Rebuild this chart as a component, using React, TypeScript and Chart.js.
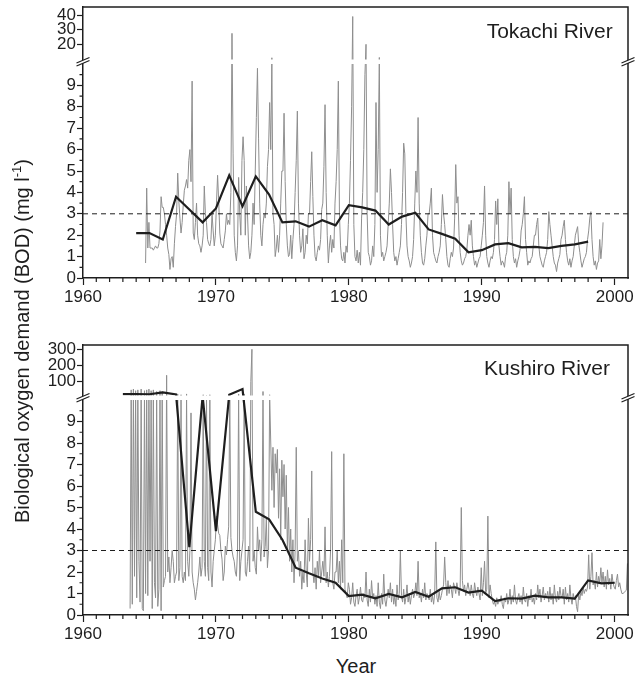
import React, { useEffect, useRef } from 'react';
import { Chart, registerables, LinearScale } from 'chart.js';

Chart.register(...registerables);

// ---------------- DATA ----------------
const xMin = 1960;
const xMax = 2001;
const yearTicks = [1960, 1970, 1980, 1990, 2000];
const bodStandard = 3;

const tokachiYTicks = [0, 1, 2, 3, 4, 5, 6, 7, 8, 9, 20, 30, 40];
const kushiroYTicks = [0, 1, 2, 3, 4, 5, 6, 7, 8, 9, 100, 200, 300];

// Tokachi River monthly BOD (Jan..Dec), first row = 1964
const tokachiMonthlyStart = 1964;
const tokachiMonthly: (number | null)[][] = [
  [null, null, null, null, null, null, null, null, 0.7, 4.2, 1.4, 2.6],
  [1.4, 1.4, 1.4, 1.3, 1.4, 1.5, 1.4, 1.4, 1.6, 2.2, 3.8, 3.3],
  [3.3, 3.0, 2.5, 2.0, 1.4, 1.1, 0.4, 0.9, 1.0, 0.5, 1.6, 2.4],
  [3.0, 4.9, 3.6, 2.8, 2.1, 2.6, 3.4, 4.1, 4.3, 4.6, 4.2, 5.5],
  [6.0, 4.5, 9.2, 2.1, 1.8, 2.6, 3.5, 2.0, 1.6, 1.5, 1.2, 1.5],
  [2.0, 4.3, 3.0, 2.6, 1.8, 1.6, 1.5, 1.8, 3.0, 2.2, 1.5, 2.0],
  [3.5, 4.8, 3.6, 2.1, 1.6, 1.5, 1.4, 1.8, 2.2, 3.0, 2.5, 2.7],
  [2.5, 4.0, 27.5, 5.8, 2.0, 1.2, 0.8, 1.5, 4.7, 3.0, 2.0, 5.5],
  [6.6, 5.5, 2.0, 4.3, 3.0, 1.5, 0.9, 1.2, 2.0, 3.5, 2.5, 5.0],
  [7.5, 9.8, 6.5, 3.5, 2.0, 1.5, 2.5, 3.0, 2.8, 3.5, 5.2, 6.0],
  [8.2, 6.0, 10.8, 3.0, 2.5, 1.0, 1.4, 2.0, 1.2, 2.0, 3.5, 5.0],
  [5.0, 7.7, 4.5, 2.5, 1.5, 1.0, 1.1, 2.0, 0.9, 1.8, 2.5, 4.0],
  [5.5, 7.8, 3.5, 2.0, 1.2, 1.5, 2.3, 0.9, 1.2, 2.0, 1.6, 3.0],
  [3.0, 4.5, 5.9, 3.8, 2.0, 1.0, 0.8, 1.2, 1.5, 1.3, 1.8, 3.2],
  [3.5, 5.2, 8.1, 4.0, 2.0, 0.7, 1.5, 2.0, 1.2, 1.8, 1.4, 3.5],
  [4.5, 6.0, 9.2, 3.0, 1.5, 0.9, 0.8, 1.2, 0.7, 1.5, 1.2, 2.5],
  [3.5, 5.5, 8.0, 39.0, 2.5, 1.0, 0.8, 1.3, 0.7, 1.2, 0.6, 2.8],
  [4.0, 6.0, 9.5, 20.0, 3.0, 1.2, 1.0, 0.6, 0.8, 1.5, 1.0, 2.5],
  [8.2, 4.0, 6.0, 11.0, 2.0, 1.0, 1.2, 0.8, 1.0, 1.2, 1.5, 2.5],
  [3.5, 5.1, 4.0, 2.5, 1.2, 0.8, 1.0, 0.6, 0.9, 1.2, 1.5, 2.5],
  [4.0, 6.3, 5.8, 3.0, 1.5, 1.0, 0.8, 0.5, 0.7, 1.0, 1.8, 3.5],
  [5.0, 4.0, 7.5, 3.5, 2.0, 1.2, 0.7, 0.6, 0.9, 1.5, 2.0, 3.0],
  [3.0, 3.5, 4.2, 2.0, 1.2, 1.0, 0.8, 0.7, 1.0, 1.2, 1.5, 2.5],
  [3.9, 3.0, 2.5, 1.8, 1.0, 0.6, 0.5, 0.9, 1.2, 1.0, 1.4, 2.8],
  [5.3, 3.5, 3.8, 2.0, 1.2, 0.8, 0.6, 0.7, 0.9, 1.0, 1.3, 2.0],
  [2.5, 2.0, 2.7, 1.5, 1.0, 0.6, 0.8, 0.5, 0.7, 0.9, 1.0, 1.5],
  [2.0, 2.6, 4.3, 2.0, 1.0, 0.7, 0.5, 0.8, 1.0, 0.9, 1.2, 1.8],
  [3.6, 2.5, 3.7, 1.5, 1.0, 0.6, 0.8, 0.7, 0.5, 1.0, 1.2, 2.0],
  [4.5, 3.0, 4.2, 1.8, 1.0, 0.7, 0.9, 0.5, 0.8, 1.0, 1.3, 2.2],
  [2.5, 3.0, 3.8, 1.8, 1.2, 0.6, 0.8, 0.7, 0.9, 1.0, 1.5, 2.0],
  [2.0, 2.5, 2.8, 1.5, 1.0, 0.8, 0.6, 0.5, 0.8, 1.0, 1.2, 1.8],
  [3.1, 2.5, 2.0, 1.5, 1.0, 0.7, 0.6, 0.3, 0.7, 0.9, 1.1, 1.8],
  [2.0, 2.4, 2.7, 1.8, 1.2, 0.8, 0.6, 0.9, 0.5, 0.8, 1.0, 1.5],
  [2.0, 2.2, 2.4, 1.6, 1.2, 0.8, 0.5, 0.7, 0.9, 1.0, 1.2, 1.8],
  [2.2, 2.8, 3.1, 1.8, 1.0, 0.6, 0.8, 0.4, 0.7, 0.8, 1.8, 0.9],
  [1.5, 2.6],
];

// Tokachi River annual mean BOD, first value = 1964
const tokachiAnnualStart = 1964;
const tokachiAnnual = [
  2.1, 2.1, 1.8, 3.8, 3.2, 2.6, 3.25, 4.8, 3.35, 4.75, 3.9, 2.6, 2.65, 2.4, 2.7,
  2.46, 3.4, 3.3, 3.15, 2.5, 2.87, 3.05, 2.27, 2.06, 1.84, 1.2, 1.3, 1.57, 1.63,
  1.43, 1.45, 1.4, 1.5, 1.57, 1.7,
];

// Kushiro River monthly BOD (Jan..Dec), first row = 1963
const kushiroMonthlyStart = 1963;
const kushiroMonthly: (number | null)[][] = [
  [null, null, null, null, null, null, 0.3, 50, 0.5, 55, 1.8, 45],
  [0.8, 50, 2.5, 0.6, 55, 0.3, 0.2, 45, 1.0, 50, 0.9, 55],
  [2.5, 45, 0.3, 50, 1.5, 0.8, 40, 0.4, 1.2, 45, 0.2, 40],
  [1.3, 1.6, 1.8, 140, 2.0, 2.7, 1.5, 2.2, 3.0, 2.5, 1.5, 1.8],
  [2.0, 25, 1.6, 2.2, 20, 1.8, 1.5, 2.0, 1.6, 25, 2.5, 1.8],
  [3.0, 9.4, 2.0, 1.5, 1.2, 0.7, 1.1, 1.5, 2.0, 2.7, 1.8, 2.2],
  [20, 2.5, 1.8, 15, 2.2, 1.6, 20, 2.0, 1.3, 2.5, 3.0, 3.5],
  [4.6, 4.2, 3.8, 3.7, 3.0, 2.6, 1.6, 2.0, 3.2, 2.8, 3.5, 4.1],
  [25, 3.6, 3.0, 2.7, 2.5, 2.0, 1.8, 3.0, 25, 1.6, 2.5, 3.0],
  [3.5, 25, 2.0, 1.8, 2.5, 3.2, 2.0, 100, 300, 2.5, 3.0, 2.2],
  [1.9, 4.1, 3.0, 3.5, 2.5, 3.5, 40, 2.7, 3.2, 4.5, 2.2, 3.0],
  [20, 8.0, 5.8, 7.8, 5.0, 7.5, 6.6, 7.7, 4.5, 6.8, 3.5, 7.2],
  [5.5, 7.0, 4.0, 6.5, 3.0, 5.0, 2.5, 4.0, 2.0, 3.5, 1.5, 3.0],
  [7.8, 2.5, 3.0, 1.8, 2.5, 1.2, 2.0, 1.5, 3.5, 2.0, 1.3, 4.5],
  [2.5, 3.5, 6.7, 2.0, 1.5, 2.2, 1.2, 2.5, 1.8, 3.0, 1.5, 2.0],
  [2.5, 1.8, 4.1, 1.5, 2.0, 1.3, 1.8, 3.0, 7.6, 1.5, 1.2, 2.0],
  [2.0, 3.0, 1.5, 2.5, 1.2, 3.5, 1.5, 7.5, 1.2, 1.0, 0.8, 1.5],
  [1.2, 0.5, 0.8, 1.5, 0.6, 0.4, 0.9, 1.2, 0.5, 0.8, 1.3, 0.7],
  [0.6, 1.0, 0.8, 2.0, 0.7, 0.4, 1.2, 0.6, 1.6, 0.8, 1.0, 0.5],
  [0.9, 0.4, 1.5, 0.6, 0.3, 1.0, 0.5, 1.9, 0.7, 0.4, 0.8, 1.2],
  [0.8, 1.5, 0.6, 1.2, 0.5, 0.9, 0.4, 1.4, 0.7, 1.0, 3.0, 0.9],
  [0.6, 1.2, 0.5, 0.8, 1.4, 0.6, 1.0, 0.5, 0.9, 1.2, 0.8, 1.0],
  [1.5, 0.9, 2.5, 0.8, 1.0, 0.6, 1.2, 0.8, 1.5, 0.7, 1.0, 0.9],
  [0.7, 1.2, 0.6, 0.9, 0.5, 1.0, 3.4, 0.8, 0.6, 1.1, 0.7, 0.9],
  [1.2, 1.4, 2.7, 1.5, 0.9, 1.6, 1.0, 1.4, 1.2, 0.8, 1.5, 1.3],
  [1.0, 1.5, 1.2, 0.9, 1.3, 5.0, 1.6, 1.1, 1.4, 0.9, 1.2, 1.5],
  [1.2, 0.9, 1.4, 1.0, 0.8, 1.5, 1.1, 0.9, 1.3, 1.0, 0.7, 2.2],
  [0.9, 1.5, 2.5, 1.0, 1.2, 4.6, 0.8, 1.4, 1.0, 0.7, 0.5, 0.6],
  [0.4, 0.8, 0.5, 0.7, 0.6, 0.9, 0.5, 0.3, 0.8, 0.6, 1.0, 0.5],
  [0.7, 1.2, 0.5, 0.9, 0.6, 1.4, 0.7, 0.5, 0.8, 1.0, 0.6, 0.9],
  [0.5, 1.3, 0.7, 0.6, 1.0, 0.4, 0.9, 0.7, 1.2, 0.6, 0.8, 0.5],
  [1.0, 0.7, 1.4, 0.8, 1.2, 0.6, 0.9, 1.3, 0.7, 1.0, 0.8, 1.1],
  [0.6, 1.3, 0.7, 1.0, 0.5, 1.4, 0.8, 0.6, 1.1, 0.7, 1.3, 0.9],
  [0.8, 1.2, 0.5, 1.3, 0.7, 1.0, 0.6, 1.4, 0.8, 0.5, 1.0, 0.7],
  [0.9, 0.4, 0.15, 1.0, 0.7, 1.1, 0.9, 1.3, 1.0, 1.2, 1.1, 1.3],
  [2.8, 1.2, 1.8, 2.9, 1.4, 1.6, 1.2, 2.0, 1.3, 1.8, 1.5, 2.2],
  [1.5, 2.0, 1.3, 1.8, 1.2, 2.1, 1.4, 1.7, 1.2, 1.9, 1.5, 1.3],
  [1.2, 1.6, 1.9, 1.3, 1.5, 1.2, 1.0, 1.0, 1.05, 1.1, 1.15, 2.4],
];

// Kushiro River annual mean BOD, first value = 1963
const kushiroAnnualStart = 1963;
const kushiroAnnual = [
  24, 24, 23, 35, 22, 3.15, 12, 3.9, 20, 55, 4.8, 4.45, 3.5, 2.2, 1.94, 1.7, 1.5,
  0.88, 0.95, 0.78, 0.98, 0.82, 1.07, 0.85, 1.24, 1.29, 1.04, 1.13, 0.65, 0.78,
  0.76, 0.9, 0.82, 0.82, 0.76, 1.61, 1.47, 1.5,
];

// ---------------- STYLE / LAYOUT ----------------
const FONT = '"Liberation Sans", Arial, Helvetica, sans-serif';
const INK = '#1e1e1e';
const GRAY = '#8e8e8e';

class BrokenLinearScale extends (LinearScale as any) {
  static id = 'brokenLinear';
  static defaults = (LinearScale as any).defaults;
  brk() {
    const self: any = this;
    const o: any = self.options.brk;
    const h = self.bottom - self.top;
    const lowTop = self.bottom - h * o.lowFrac;
    return {
      lowMax: o.lowMax as number,
      upMin: o.upMin as number,
      upMax: o.upMax as number,
      lowTop,
      upBottom: lowTop - o.gap,
    };
  }
  getPixelForValue(value: any) {
    const self: any = this;
    if (value === null || value === undefined || isNaN(value)) return NaN;
    const b = this.brk();
    if (value <= b.lowMax) {
      return self.bottom - (value / b.lowMax) * (self.bottom - b.lowTop);
    }
    return b.upBottom - ((value - b.upMin) / (b.upMax - b.upMin)) * (b.upBottom - self.top);
  }
  getValueForPixel(pixel: number) {
    const self: any = this;
    const b = this.brk();
    if (pixel >= b.lowTop) return ((self.bottom - pixel) / (self.bottom - b.lowTop)) * b.lowMax;
    return b.upMin + ((b.upBottom - pixel) / (b.upBottom - self.top)) * (b.upMax - b.upMin);
  }
}
Chart.register(BrokenLinearScale as any);

function monthlyPoints(start: number, rows: (number | null)[][]) {
  const pts: { x: number; y: number | null }[] = [];
  rows.forEach((row, i) =>
    row.forEach((v, m) => pts.push({ x: start + i + (m + 0.5) / 12, y: v }))
  );
  return pts;
}
function annualPoints(start: number, vals: number[]) {
  return vals.map((v, i) => ({ x: start + i, y: v }));
}

const decoPlugin = {
  id: 'deco',
  afterDatasetsDraw(chart: any) {
    const ys = chart.scales.y;
    const { left, right } = chart.chartArea;
    const b = ys.brk();
    const ctx = chart.ctx;
    ctx.save();
    ctx.fillStyle = '#ffffff';
    ctx.fillRect(left + 1, b.upBottom - 2.5, right - left - 2, b.lowTop - b.upBottom + 2.5);
    ctx.restore();
  },
  afterDraw(chart: any) {
    const ctx = chart.ctx;
    const { left, right, top, bottom } = chart.chartArea;
    const xs = chart.scales.x;
    const ys = chart.scales.y;
    const b = ys.brk();
    ctx.save();
    ctx.strokeStyle = INK;
    ctx.lineWidth = 1.5;
    ctx.beginPath();
    ctx.moveTo(left - 0.75, top);
    ctx.lineTo(right, top);
    ctx.lineTo(right, bottom + 0.75);
    ctx.stroke();
    // minor ticks
    ctx.lineWidth = 1.2;
    ctx.beginPath();
    for (let yr = xMin + 1; yr < xMax; yr++) {
      if (yearTicks.includes(yr)) continue;
      const px = xs.getPixelForValue(yr);
      ctx.moveTo(px, bottom);
      ctx.lineTo(px, bottom + 4);
    }
    for (let v = 0.5; v < b.lowMax; v += 1) {
      const py = ys.getPixelForValue(v);
      ctx.moveTo(left - 3.5, py);
      ctx.lineTo(left, py);
    }
    ctx.stroke();
    // axis break marks
    const bp = b.upBottom - 0.5;
    [left, right].forEach((x0: number) => {
      ctx.fillStyle = '#ffffff';
      ctx.beginPath();
      ctx.moveTo(x0 - 6.5, bp + 1.5);
      ctx.lineTo(x0 + 6.5, bp - 4);
      ctx.lineTo(x0 + 6.5, bp - 1);
      ctx.lineTo(x0 - 6.5, bp + 4.5);
      ctx.closePath();
      ctx.fill();
      ctx.lineWidth = 1.2;
      ctx.beginPath();
      ctx.moveTo(x0 - 6.5, bp + 1.5);
      ctx.lineTo(x0 + 6.5, bp - 4);
      ctx.moveTo(x0 - 6.5, bp + 4.5);
      ctx.lineTo(x0 + 6.5, bp - 1);
      ctx.stroke();
    });
    ctx.restore();
  },
};

interface Panel {
  monthly: { x: number; y: number | null }[];
  annual: { x: number; y: number }[];
  yTicks: number[];
  brk: { lowMax: number; lowFrac: number; gap: number; upMin: number; upMax: number };
  canvasH: number;
  areaTop: number;
  areaBottom: number;
}

function buildConfig(p: Panel): any {
  const tickFont = { family: FONT, size: 17 };
  return {
    type: 'line',
    data: {
      datasets: [
        {
          label: 'annual',
          data: p.annual,
          borderColor: INK,
          borderWidth: 2.2,
          pointRadius: 0,
          tension: 0,
          order: 0,
        },
        {
          label: 'standard',
          data: [
            { x: xMin, y: bodStandard },
            { x: xMax, y: bodStandard },
          ],
          borderColor: INK,
          borderWidth: 1,
          borderDash: [5, 4],
          pointRadius: 0,
          order: 1,
        },
        {
          label: 'monthly',
          data: p.monthly,
          borderColor: GRAY,
          borderWidth: 1,
          pointRadius: 0,
          tension: 0,
          spanGaps: false,
          order: 2,
        },
      ],
    },
    options: {
      animation: false,
      responsive: false,
      events: [],
      layout: { padding: { left: 0, right: 8, top: p.areaTop, bottom: 0 } },
      plugins: { legend: { display: false }, tooltip: { enabled: false }, title: { display: false } },
      scales: {
        x: {
          type: 'linear',
          min: xMin,
          max: xMax,
          afterBuildTicks: (s: any) => {
            s.ticks = yearTicks.map((v) => ({ value: v }));
          },
          afterFit: (s: any) => {
            s.height = p.canvasH - p.areaBottom;
            s.paddingLeft = 0;
            s.paddingRight = 0;
          },
          ticks: {
            autoSkip: false,
            maxRotation: 0,
            minRotation: 0,
            padding: 2,
            color: INK,
            font: tickFont,
            callback: (v: any) => String(v),
          },
          grid: { drawOnChartArea: false, tickLength: 7, tickColor: INK, tickWidth: 1.2 },
          border: { color: INK, width: 1.5 },
        },
        y: {
          type: 'brokenLinear',
          min: 0,
          max: p.brk.upMax,
          brk: p.brk,
          afterBuildTicks: (s: any) => {
            s.ticks = p.yTicks.map((v) => ({ value: v }));
          },
          afterFit: (s: any) => {
            s.width = 83;
            s.paddingTop = 0;
            s.paddingBottom = 0;
          },
          ticks: {
            autoSkip: false,
            padding: 1,
            color: INK,
            font: tickFont,
            callback: (v: any) => String(v),
          },
          grid: { drawOnChartArea: false, tickLength: 6, tickColor: INK, tickWidth: 1.2 },
          border: { color: INK, width: 1.5 },
        },
      },
    },
    plugins: [decoPlugin],
  };
}

const tokachiPanel: Panel = {
  monthly: monthlyPoints(tokachiMonthlyStart, tokachiMonthly),
  annual: annualPoints(tokachiAnnualStart, tokachiAnnual),
  yTicks: tokachiYTicks,
  brk: { lowMax: 10, lowFrac: 214 / 271, gap: 2, upMin: 7.9, upMax: 45.5 },
  canvasH: 320,
  areaTop: 7,
  areaBottom: 278,
};

const kushiroPanel: Panel = {
  monthly: monthlyPoints(kushiroMonthlyStart, kushiroMonthly),
  annual: annualPoints(kushiroAnnualStart, kushiroAnnual),
  yTicks: kushiroYTicks,
  brk: { lowMax: 10, lowFrac: 215 / 270, gap: 2, upMin: 0, upMax: 326.5 },
  canvasH: 330,
  areaTop: 25,
  areaBottom: 295,
};

export default function App() {
  const topRef = useRef<HTMLCanvasElement>(null);
  const botRef = useRef<HTMLCanvasElement>(null);

  useEffect(() => {
    Chart.defaults.font.family = FONT;
    const c1 = new Chart(topRef.current as HTMLCanvasElement, buildConfig(tokachiPanel));
    const c2 = new Chart(botRef.current as HTMLCanvasElement, buildConfig(kushiroPanel));
    return () => {
      c1.destroy();
      c2.destroy();
    };
  }, []);

  const txt: React.CSSProperties = {
    position: 'absolute',
    fontFamily: FONT,
    color: INK,
    whiteSpace: 'nowrap',
  };

  return (
    <div
      style={{
        position: 'absolute',
        left: 0,
        top: 0,
        width: 636,
        height: 675,
        background: '#ffffff',
        overflow: 'hidden',
      }}
    >
      <canvas
        ref={topRef}
        width={636}
        height={320}
        style={{ position: 'absolute', left: 0, top: 0, width: 636, height: 320 }}
      />
      <canvas
        ref={botRef}
        width={636}
        height={330}
        style={{ position: 'absolute', left: 0, top: 320, width: 636, height: 330 }}
      />
      <div style={{ ...txt, left: 400, top: 19, width: 212.7, textAlign: 'right', fontSize: 21, lineHeight: '24px' }}>
        Tokachi River
      </div>
      <div style={{ ...txt, left: 400, top: 356, width: 210, textAlign: 'right', fontSize: 21, lineHeight: '24px' }}>
        Kushiro River
      </div>
      <div style={{ ...txt, left: 306, top: 654, width: 100, textAlign: 'center', fontSize: 20, lineHeight: '24px' }}>
        Year
      </div>
      <div
        style={{
          ...txt,
          left: 21.6 - 230,
          top: 341 - 11,
          width: 460,
          height: 22,
          lineHeight: '22px',
          fontSize: 20,
          textAlign: 'center',
          transform: 'rotate(-90deg)',
          transformOrigin: '50% 50%',
        }}
      >
        Biological oxygen demand (BOD) (mg l
        <sup style={{ fontSize: 13, lineHeight: 0 }}>-1</sup>)
      </div>
    </div>
  );
}
